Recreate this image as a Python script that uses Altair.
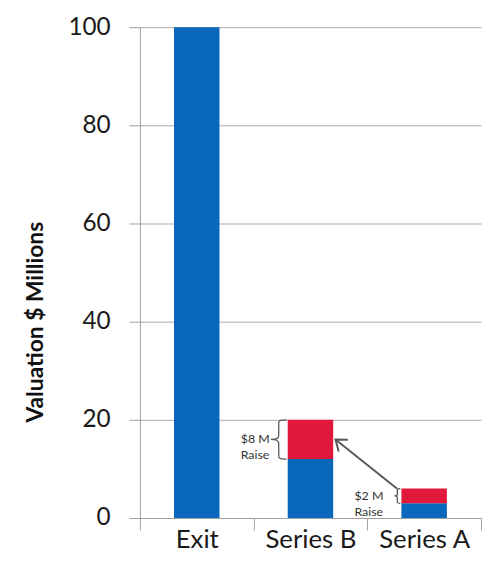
import altair as alt
import pandas as pd

# ---- data ----
stages = ["Exit", "Series B", "Series A"]
pre_values = [100, 12, 3]          # blue segment (value before the raise)
raise_values = [0, 8, 3]           # red segment (the raise)
raise_labels = ["", "$8 M\nRaise", "$2 M\nRaise"]
arrow_from = ["Series A"]
arrow_to = ["Series B"]

BLUE = "#0A68BC"
RED = "#E0193B"
FONT = "Lato"
GREY = "#595959"

rows = []
for s, p, r in zip(stages, pre_values, raise_values):
    rows.append({"stage": s, "seg": "pre", "start": 0, "end": p})
    if r > 0:
        rows.append({"stage": s, "seg": "raise", "start": p, "end": p + r})
bars_df = pd.DataFrame(rows)

ann_df = pd.DataFrame([
    {"stage": s, "mid": p + r / 2, "amount": r, "label": lab}
    for s, p, r, lab in zip(stages, pre_values, raise_values, raise_labels) if r > 0
])

top_of = {s: p + r for s, p, r in zip(stages, pre_values, raise_values)}
mid_of = {s: p + r / 2 for s, p, r in zip(stages, pre_values, raise_values)}
arrow_df = pd.DataFrame([
    {"src": a, "dst": b, "y_src": top_of[a], "y_dst": mid_of[b]}
    for a, b in zip(arrow_from, arrow_to)
])

Y_TITLE = "Valuation $ Millions"
BAR_FRAC = 0.4
PLOT_H = 495
x_scale = alt.Scale(domain=stages, paddingInner=0, paddingOuter=0)
y_scale = alt.Scale(domain=[0, 100], nice=False)

x_axis = alt.Axis(
    title=None, labelAngle=0, tickBand="extent", tickSize=12, labelFontSize=26,
    labelPadding=-3, labelFont=FONT, labelColor="#1a1a1a", domainColor="#a0a0a0",
    tickColor="#a0a0a0", grid=False,
)
y_axis = alt.Axis(
    values=[0, 20, 40, 60, 80, 100], grid=True, gridColor="#ababab", gridWidth=1,
    tickSize=11, tickColor="#a0a0a0", domainColor="#a0a0a0", labelPadding=19,
    labelFontSize=24.5, labelFont=FONT, labelColor="#1a1a1a",
    title=Y_TITLE, titleFont=FONT, titleFontSize=23, titleFontWeight="bold",
    titleColor="#111111", titleAngle=270, titleAlign="center", titleBaseline="middle",
    titleX=-105, titleY=297,
)

bars = alt.Chart(bars_df).mark_bar(width=alt.RelativeBandSize(BAR_FRAC)).encode(
    x=alt.X("stage:N", scale=x_scale, axis=x_axis, sort=stages),
    y=alt.Y("start:Q", scale=y_scale, axis=y_axis, title=Y_TITLE),
    y2="end:Q",
    color=alt.Color("seg:N", scale=alt.Scale(domain=["pre", "raise"], range=[BLUE, RED]), legend=None),
)

brace_path = ("M 0 -1 C -0.4 -1 -0.4 -0.95 -0.4 -0.8 L -0.4 -0.2 "
              "C -0.4 -0.05 -0.5 0 -0.8 0 C -0.5 0 -0.4 0.05 -0.4 0.2 "
              "L -0.4 0.8 C -0.4 0.95 -0.4 1 0 1")

bar_left = 0.5 - BAR_FRAC / 2
bar_right = 0.5 + BAR_FRAC / 2

braces = alt.Chart(ann_df).transform_calculate(
    bsize=f"pow(datum.amount * {PLOT_H / 100}, 2)"
).mark_point(shape=brace_path, filled=False, stroke=GREY, strokeWidth=1.3, opacity=1).encode(
    x=alt.X("stage:N", scale=x_scale, axis=x_axis, sort=stages, bandPosition=bar_left - 0.01),
    y=alt.Y("mid:Q", scale=y_scale, axis=y_axis, title=Y_TITLE),
    size=alt.Size("bsize:Q", scale=None, legend=None),
)

texts = alt.Chart(ann_df).mark_text(
    align="left", baseline="middle", lineBreak="\n", fontSize=12.5, font=FONT,
    color="#333333", lineHeight=16, dx=-13,
).encode(
    x=alt.X("stage:N", scale=x_scale, axis=x_axis, sort=stages, bandPosition=0),
    y=alt.Y("mid:Q", scale=y_scale, axis=y_axis, title=Y_TITLE),
    text="label:N",
)

arrow_line = alt.Chart(arrow_df).mark_rule(color=GREY, strokeWidth=2).encode(
    x=alt.X("src:N", scale=x_scale, axis=x_axis, sort=stages, bandPosition=bar_left - 0.04),
    x2=alt.X2("dst:N", bandPosition=bar_right + 0.02),
    y=alt.Y("y_src:Q", scale=y_scale, axis=y_axis, title=Y_TITLE),
    y2="y_dst:Q",
)

arrow_head = alt.Chart(arrow_df).mark_point(
    shape="M 1 -0.75 L 0 0 L 1 0.75", filled=False, stroke=GREY, strokeWidth=2,
    size=400, angle=38, opacity=1,
).encode(
    x=alt.X("dst:N", scale=x_scale, axis=x_axis, sort=stages, bandPosition=bar_right + 0.02),
    y=alt.Y("y_dst:Q", scale=y_scale, axis=y_axis, title=Y_TITLE),
)

chart = alt.layer(bars, arrow_line, arrow_head, braces, texts).properties(
    width=344, height=PLOT_H,
    padding={"left": 133, "top": 17, "right": 1, "bottom": 36},
    autosize=alt.AutoSizeParams(type="none"),
    background="white",
).configure_view(stroke=None)

chart.save("out.html", embed_options={"renderer": "svg", "actions": False})
